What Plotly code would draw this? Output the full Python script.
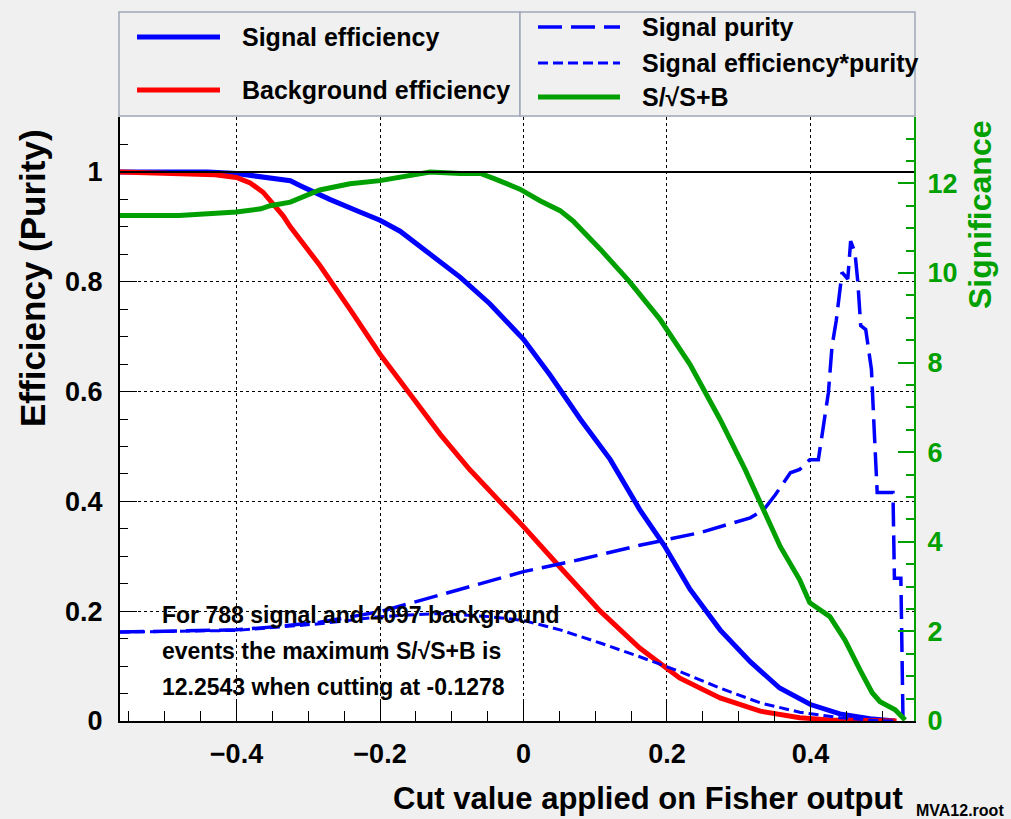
import plotly.graph_objects as go

# ---------------- data ----------------
sig_eff_x = [-0.5624, -0.44, -0.4, -0.325, -0.311, -0.27, -0.228, -0.2, -0.172, -0.126,
             -0.088, -0.047, 0.0, 0.037, 0.079, 0.121, 0.162, 0.196, 0.232, 0.274,
             0.316, 0.357, 0.4, 0.441, 0.483, 0.518]
sig_eff_y = [1.0, 1.0, 0.997, 0.984, 0.975, 0.95, 0.927, 0.912, 0.892, 0.845,
             0.808, 0.76, 0.695, 0.63, 0.55, 0.476, 0.385, 0.32, 0.24, 0.166,
             0.108, 0.06, 0.03, 0.013, 0.004, 0.0]

bkg_eff_x = [-0.5624, -0.47, -0.43, -0.4, -0.381, -0.363, -0.335, -0.325, -0.284, -0.242,
             -0.2, -0.158, -0.116, -0.075, -0.033, 0.0, 0.051, 0.107, 0.162, 0.218,
             0.274, 0.33, 0.385, 0.427, 0.52]
bkg_eff_y = [1.0, 0.998, 0.995, 0.99, 0.98, 0.963, 0.92, 0.90, 0.83, 0.75,
             0.668, 0.595, 0.522, 0.458, 0.4, 0.354, 0.28, 0.2, 0.133, 0.078,
             0.042, 0.018, 0.006, 0.002, 0.0]

purity_x = [-0.5624, -0.4, -0.344, -0.284, -0.2, -0.116, -0.033, 0.0, 0.079, 0.162,
            0.246, 0.316, 0.335, 0.351, 0.372, 0.385, 0.399, 0.411, 0.418, 0.425,
            0.430, 0.436, 0.444, 0.452, 0.456, 0.462, 0.466, 0.470, 0.477, 0.485,
            0.489, 0.493, 0.515, 0.517, 0.526, 0.529]
purity_y = [0.162, 0.166, 0.172, 0.18, 0.199, 0.23, 0.26, 0.272, 0.294, 0.32,
            0.343, 0.37, 0.385, 0.412, 0.452, 0.458, 0.476, 0.476, 0.537, 0.598,
            0.682, 0.73, 0.817, 0.805, 0.874, 0.853, 0.8, 0.72, 0.713, 0.64,
            0.525, 0.416, 0.416, 0.26, 0.26, 0.0]

effpur_x = [-0.5624, -0.4, -0.284, -0.2, -0.116, -0.047, 0.0, 0.051, 0.107, 0.162,
            0.218, 0.274, 0.33, 0.385, 0.441, 0.49, 0.52]
effpur_y = [0.162, 0.165, 0.177, 0.19, 0.196, 0.19, 0.183, 0.166, 0.142, 0.117,
            0.09, 0.06, 0.033, 0.016, 0.006, 0.001, 0.0]

signif_x = [-0.5624, -0.48, -0.4, -0.366, -0.353, -0.325, -0.284, -0.242, -0.2, -0.172,
            -0.13, -0.088, -0.06, -0.04, -0.005, 0.023, 0.051, 0.069, 0.107, 0.148,
            0.19, 0.232, 0.274, 0.309, 0.33, 0.358, 0.385, 0.399, 0.427, 0.448,
            0.469, 0.486, 0.497, 0.518, 0.532]
signif_y = [11.28, 11.28, 11.36, 11.43, 11.5, 11.58, 11.85, 11.99, 12.06, 12.14,
            12.25, 12.22, 12.22, 12.1, 11.87, 11.61, 11.39, 11.16, 10.53, 9.8,
            8.97, 7.96, 6.73, 5.61, 4.87, 3.89, 3.15, 2.64, 2.33, 1.81,
            1.14, 0.63, 0.43, 0.25, 0.02]

n_signal = 788
n_background = 4097
max_signif = 12.2543
best_cut = -0.1278

x_tick_vals = [-0.4, -0.2, 0, 0.2, 0.4]
x_tick_text = ["\u22120.4", "\u22120.2", "0", "0.2", "0.4"]

# ---------------- styling ----------------
FONT = "Liberation Sans, Arial, sans-serif"
BLUE = "#0000ff"
RED = "#ff0000"
GREEN = "#00a000"
BG = "#f0f0f0"
BOX = "#9ea8b8"

W, H = 1011, 819
PL, PR, PT, PB = 120, 914, 117, 721   # plot area in pixels


def px(x):
    return (x - PL) / (PR - PL)


def py(y):
    return (PB - y) / (PB - PT)


fig = go.Figure()

fig.add_trace(go.Scatter(x=sig_eff_x, y=sig_eff_y, mode="lines", name="Signal efficiency",
                         line=dict(color=BLUE, width=5), showlegend=False))
fig.add_trace(go.Scatter(x=bkg_eff_x, y=bkg_eff_y, mode="lines", name="Background efficiency",
                         line=dict(color=RED, width=5), showlegend=False))
fig.add_trace(go.Scatter(x=purity_x, y=purity_y, mode="lines", name="Signal purity",
                         line=dict(color=BLUE, width=3.5, dash="24px,9px"), showlegend=False))
fig.add_trace(go.Scatter(x=effpur_x, y=effpur_y, mode="lines", name="Signal efficiency*purity",
                         line=dict(color=BLUE, width=3, dash="10px,5px"), showlegend=False))
fig.add_trace(go.Scatter(x=signif_x, y=signif_y, mode="lines", name="S/sqrt(S+B)",
                         line=dict(color=GREEN, width=5), yaxis="y2", showlegend=False))

tickfont = dict(family=FONT, size=27, color="black", weight="bold")

fig.update_layout(
    width=W, height=H,
    margin=dict(l=PL, r=W - PR, t=PT, b=H - PB, pad=0),
    paper_bgcolor=BG, plot_bgcolor="white",
    font=dict(family=FONT),
    xaxis=dict(range=[-0.5624, 0.5443], tickvals=x_tick_vals, ticktext=x_tick_text,
               ticks="inside", ticklen=20, tickwidth=1, tickcolor="black",
               minor=dict(dtick=0.05, tick0=0, ticks="inside", ticklen=10, tickcolor="black",
                          showgrid=False),
               showline=True, linecolor="black", linewidth=2, mirror=False,
               showgrid=True, gridcolor="black", gridwidth=1, griddash="dot",
               zeroline=False, tickfont=tickfont, ticklabelstandoff=8),
    yaxis=dict(range=[0, 1.1], dtick=0.2, tick0=0,
               ticks="inside", ticklen=17, tickwidth=1, tickcolor="black",
               minor=dict(dtick=0.05, tick0=0, ticks="inside", ticklen=8, tickcolor="black",
                          showgrid=False),
               showline=True, linecolor="black", linewidth=2,
               showgrid=True, gridcolor="black", gridwidth=1, griddash="dot",
               zeroline=False, tickfont=tickfont, ticklabelstandoff=10),
    yaxis2=dict(range=[0, max_signif * 1.1], dtick=2, tick0=0, overlaying="y", side="right",
                ticks="inside", ticklen=16, tickwidth=1.5, tickcolor=GREEN,
                minor=dict(dtick=0.5, tick0=0, ticks="inside", ticklen=8, tickcolor=GREEN,
                           showgrid=False),
                showline=True, linecolor=GREEN, linewidth=2,
                showgrid=False, zeroline=False,
                tickfont=dict(family=FONT, size=27, color=GREEN, weight="bold"),
                ticklabelstandoff=6),
)

shapes = []
# reference line at efficiency = 1
shapes.append(dict(type="line", xref="paper", yref="y", x0=0, x1=1, y0=1, y1=1,
                   line=dict(color="black", width=2), layer="above"))
# legend boxes
shapes.append(dict(type="rect", xref="paper", yref="paper", x0=px(119), x1=px(520),
                   y0=py(116), y1=py(12), fillcolor=BG, line=dict(color=BOX, width=1.5)))
shapes.append(dict(type="rect", xref="paper", yref="paper", x0=px(520), x1=px(915),
                   y0=py(116), y1=py(12), fillcolor=BG, line=dict(color=BOX, width=1.5)))

legend_left = [("Signal efficiency", BLUE, "solid", 5, 37),
               ("Background efficiency", RED, "solid", 5, 90)]
legend_right = [("Signal purity", BLUE, "24px,9px", 3.5, 27),
                ("Signal efficiency*purity", BLUE, "10px,5px", 3, 63),
                ("S/\u221aS+B", GREEN, "solid", 5, 97)]

annotations = []
legfont = dict(family=FONT, size=25, color="black", weight="bold")
for text, col, dash, w, yy in legend_left:
    shapes.append(dict(type="line", xref="paper", yref="paper", x0=px(137), x1=px(220),
                       y0=py(yy), y1=py(yy), line=dict(color=col, width=w, dash=dash)))
    annotations.append(dict(text=text, xref="paper", yref="paper", x=px(240), y=py(yy),
                            xanchor="left", yanchor="middle", showarrow=False, font=legfont))
for text, col, dash, w, yy in legend_right:
    shapes.append(dict(type="line", xref="paper", yref="paper", x0=px(538), x1=px(620),
                       y0=py(yy), y1=py(yy), line=dict(color=col, width=w, dash=dash)))
    annotations.append(dict(text=text, xref="paper", yref="paper", x=px(640), y=py(yy),
                            xanchor="left", yanchor="middle", showarrow=False, font=legfont))

# info text
info_lines = [f"For {n_signal} signal and {n_background} background",
              "events the maximum S/\u221aS+B is",
              f"{max_signif} when cutting at {best_cut}"]
for line, yy in zip(info_lines, [615, 651, 687]):
    annotations.append(dict(text=line, xref="paper", yref="paper", x=px(160), y=py(yy),
                            xanchor="left", yanchor="middle", showarrow=False,
                            font=dict(family=FONT, size=23, color="black", weight="bold")))

# axis titles
annotations.append(dict(text="Efficiency (Purity)", xref="paper", yref="paper",
                        x=px(32), y=py(278), xanchor="center", yanchor="middle",
                        textangle=-90, showarrow=False,
                        font=dict(family=FONT, size=35, color="black", weight="bold")))
annotations.append(dict(text="Significance", xref="paper", yref="paper",
                        x=px(980), y=py(215), xanchor="center", yanchor="middle",
                        textangle=-90, showarrow=False,
                        font=dict(family=FONT, size=32, color=GREEN, weight="bold")))
annotations.append(dict(text="Cut value applied on Fisher output", xref="paper", yref="paper",
                        x=px(905), y=py(798), xanchor="right", yanchor="middle",
                        showarrow=False,
                        font=dict(family=FONT, size=31, color="black", weight="bold")))
annotations.append(dict(text="MVA12.root", xref="paper", yref="paper",
                        x=px(1006), y=py(810), xanchor="right", yanchor="middle",
                        showarrow=False,
                        font=dict(family=FONT, size=16, color="black", weight="bold")))

fig.update_layout(shapes=shapes, annotations=annotations)

fig.write_html("out.html",
               config={"displayModeBar": False},
               post_script="document.body.style.margin='0';document.body.style.background='" + BG + "';")
